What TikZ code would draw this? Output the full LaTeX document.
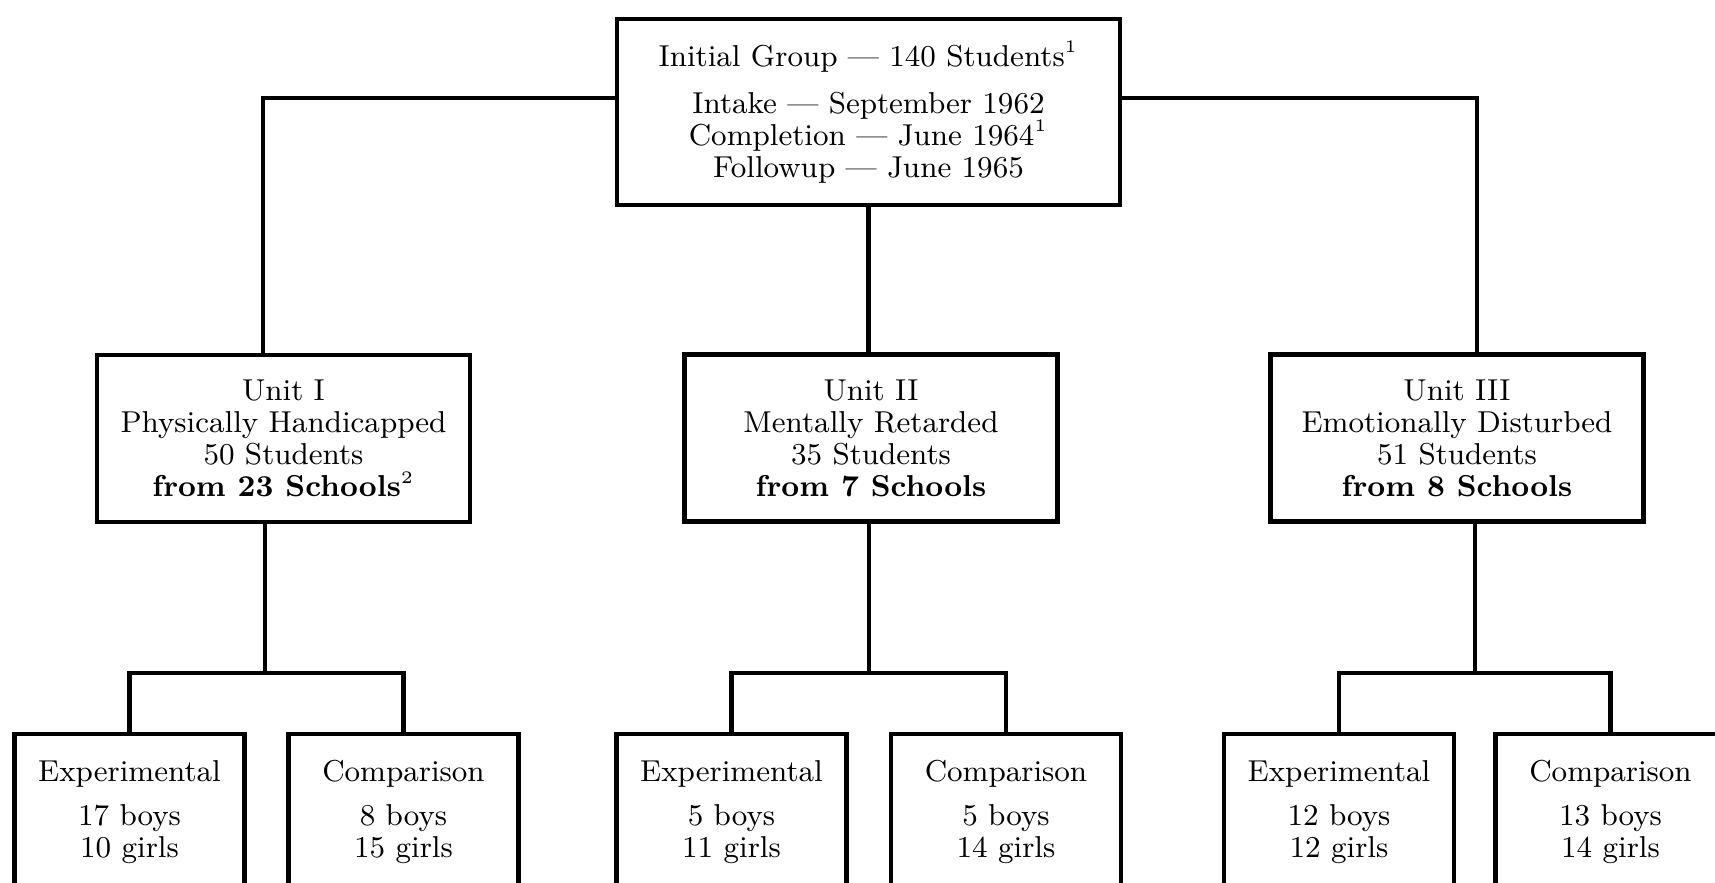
\documentclass[tikz,border=0pt]{standalone}
\begin{document}
\begin{tikzpicture}[
		box/.style={draw, line width=1.2pt, align=center, inner sep=0pt, font=\fontsize{8.6}{9.1}\selectfont},
		topbox/.style={box, minimum width=5.03cm, minimum height=1.86cm, font=\fontsize{8.6}{9}\selectfont},
		unitbox/.style={box, minimum width=3.73cm, minimum height=1.67cm},
		groupbox/.style={box, minimum width=2.3cm, minimum height=1.56cm},
		link/.style={line width=1.2pt}
	]
	\useasboundingbox (0,0) rectangle (17.15,-8.82);
	\clip (0,0) rectangle (17.15,-8.82);
	\node[topbox] (top) at (8.685,-1.12) {Initial Group --- 140 Students\textsuperscript{\tiny1}\\[4.5pt] Intake --- September 1962\\ Completion --- June 1964\textsuperscript{\tiny1}\\ Followup --- June 1965};
	\node[unitbox] (u1) at (2.835,-4.385) {Unit I\\ Physically Handicapped\\ 50 Students\\ \textbf{from 23 Schools}\textsuperscript{\tiny2}};
	\node[unitbox] (u2) at (8.71,-4.38) {Unit II\\ Mentally Retarded\\ 35 Students\\ \textbf{from 7 Schools}};
	\node[unitbox] (u3) at (14.57,-4.38) {Unit III\\ Emotionally Disturbed\\ 51 Students\\ \textbf{from 8 Schools}};
	\node[groupbox] (e1) at (1.295,-8.12) {Experimental\\[3.5pt] 17 boys\\ 10 girls};
	\node[groupbox] (c1) at (4.035,-8.12) {Comparison\\[3.5pt] 8 boys\\ 15 girls};
	\node[groupbox] (e2) at (7.315,-8.12) {Experimental\\[3.5pt] 5 boys\\ 11 girls};
	\node[groupbox] (c2) at (10.06,-8.12) {Comparison\\[3.5pt] 5 boys\\ 14 girls};
	\node[groupbox] (e3) at (13.39,-8.12) {Experimental\\[3.5pt] 12 boys\\ 12 girls};
	\node[groupbox] (c3) at (16.105,-8.12) {Comparison\\[3.5pt] 13 boys\\ 14 girls};
	\coordinate (j1) at (2.65,-6.73);
	\coordinate (j2) at (8.69,-6.73);
	\coordinate (j3) at (14.75,-6.73);
	\draw[link] ([yshift=0.14cm]top.west) -| ([xshift=-0.205cm]u1.north);
	\draw[link] ([yshift=0.14cm]top.east) -| ([xshift=0.2cm]u3.north);
	\draw[link] (top.south) -- (top.south |- u2.north);
	\draw[link] (j1 |- u1.south) -- (j1);
	\draw[link] (j2 |- u2.south) -- (j2);
	\draw[link] (j3 |- u3.south) -- (j3);
	\draw[link] (e1.north) |- (j1) -| (c1.north);
	\draw[link] (e2.north) |- (j2) -| (c2.north);
	\draw[link] (e3.north) |- (j3) -| (c3.north);
\end{tikzpicture}
\end{document}
